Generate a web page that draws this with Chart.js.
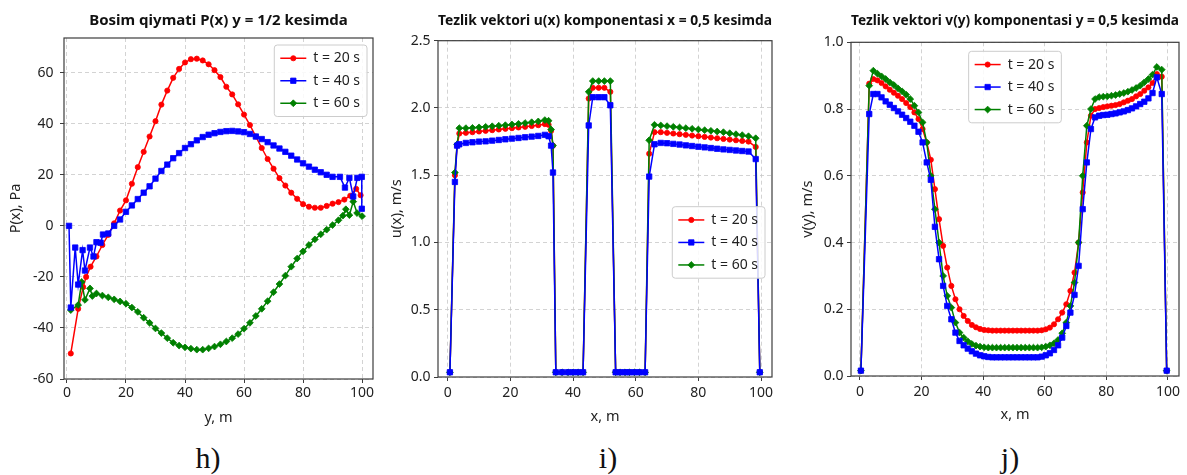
<!DOCTYPE html>
<html>
<head>
<meta charset="utf-8">
<script src="https://cdn.jsdelivr.net/npm/chart.js@4.4.0/dist/chart.umd.min.js"></script>
<style>
  body { margin: 0; background: #fff; width: 1187px; height: 475px; position: relative; overflow: hidden; }
  canvas { position: absolute; top: 0; }
  .tag { position: absolute; top: 441px; width: 100px; text-align: center; font-family: "Liberation Serif", serif; font-size: 30px; line-height: 34px; color: #111; }
</style>
</head>
<body>
<canvas id="chartH" width="390" height="440" style="left:0px"></canvas>
<canvas id="chartI" width="405" height="440" style="left:385px"></canvas>
<canvas id="chartJ" width="392" height="440" style="left:795px"></canvas>
<div class="tag" style="left:158px">h)</div>
<div class="tag" style="left:558px">i)</div>
<div class="tag" style="left:960px">j)</div>
<script>
// series names and colours
const seriesLabels = ['t = 20 s', 't = 40 s', 't = 60 s'];
const seriesColors = ['#ff0000', '#0000ff', '#008000'];

// h) pressure P(x) on y = 1/2, [y, P] pairs
const pressure20 = [[1.3,-50],[3.8,-32.5],[5.5,-24],[6.5,-20],[8,-16],[10,-12],[12,-7.5],[14,-3.5],[16,1],[18,6],[20,10],
  [22,16.5],[24,23],[26,29],[28,35],[30,41],[32,47.5],[34,53],[36,58],[38,61.5],[40,64],[42,65.3],[44,65.5],[46,64.8],
  [48,63.3],[50,61],[52,58.3],[54,54.5],[56,51.5],[58,47.6],[60,43.6],[62,39.5],[64,35],[66,30.5],[68,26.2],[70,22.4],
  [72,18.7],[74,15.8],[76,13],[78,10.6],[80,8.5],[82,7.5],[84,7.1],[86,7.1],[88,7.8],[90,8.7],[92,9.3],[94,10.3],
  [96,11.8],[98,14.5],[99.5,12]];
const pressure40 = [[0.7,0],[1.3,-32],[2.8,-8.5],[3.8,-23],[5.3,-9.5],[6.1,-17.5],[7.8,-8.5],[9,-12],[10,-6.4],[11.4,-6.6],
  [12.2,-3.4],[14,-3],[16,0],[18,2.5],[20,5.5],[22,8],[24,10.5],[26,13],[28,15.5],[30,18.5],[32,21.5],[34,24],[36,26.5],
  [38,28.5],[40,30.5],[42,32],[44,33.5],[46,34.8],[48,35.7],[50,36.3],[52,36.8],[54,37.1],[56,37.2],[58,37],[60,36.7],
  [62,36],[64,35],[66,34],[68,32.8],[70,31.5],[72,30.3],[74,29],[76,27.5],[78,26],[80,24.5],[82,23.2],[84,22],[86,21],
  [88,20],[90,19.2],[92.5,19.2],[94.2,15],[95.7,18.8],[97,11.5],[98.4,18.8],[99.9,19.2],[99.9,6.7]];
const pressure60 = [[1.3,-33],[3.8,-31],[5,-22],[6.1,-29],[7.8,-24.5],[8.6,-27.5],[10,-26.5],[12,-27.3],[14,-28],[16,-28.8],
  [18,-29.6],[20,-30.5],[22,-32],[24,-33.7],[26,-36],[28,-38],[30,-40.2],[32,-42],[34,-44],[36,-45.8],[38,-46.9],[40,-47.6],
  [42,-48.1],[44,-48.5],[46,-48.5],[48,-48],[50,-47.3],[52,-46.4],[54,-45.3],[56,-44],[58,-42.4],[60,-40.3],[62,-38],
  [64,-35.3],[66,-32.5],[68,-29.5],[70,-26],[72,-22.8],[74,-19.5],[76,-16],[78,-12.8],[80,-10],[82,-7.5],[84,-5.3],
  [86,-3.3],[88,-1.5],[90,0.3],[92,2.2],[93.5,4],[94.5,6.5],[95.7,4.2],[97,9.5],[98.3,5],[100,3.8]];

// i) velocity u(x) on x = 0,5
const iX = [0.7, 2.3, 3.0, 3.7, 5.8, 7.9, 10.0, 12.1, 14.2, 16.3, 18.4, 20.5, 22.6, 24.7, 26.8, 28.9, 31.0, 32.2, 33.0, 33.6,
  34.5, 36.5, 38.4, 40.0, 41.6, 43.2, 45.0, 46.3, 48.2, 50.0, 51.9, 53.6, 55.0, 56.6, 58.0, 59.6, 61.2, 63.0, 64.3, 66.0,
  68, 70, 72, 74, 76, 78, 80, 82, 84, 86, 88, 90, 92, 94, 96, 98.3, 99.6];
const iU20 = [0.035, 1.50, 1.72, 1.81,
  1.815, 1.82, 1.825, 1.83, 1.835, 1.84, 1.845, 1.85, 1.855, 1.86, 1.866, 1.872,
  1.88, 1.875, 1.83, 1.72,
  0.035, 0.035, 0.035, 0.035, 0.035, 0.035,
  2.07, 2.15, 2.15, 2.15, 2.12,
  0.035, 0.035, 0.035, 0.035, 0.035, 0.035, 0.035,
  1.66, 1.82,
  1.82, 1.815, 1.81, 1.805, 1.80, 1.795, 1.79, 1.785, 1.78, 1.775, 1.77, 1.765, 1.76, 1.755, 1.75,
  1.71, 0.035];
const iU40 = [0.035, 1.45, 1.72, 1.73,
  1.74, 1.745, 1.75, 1.752, 1.757, 1.762, 1.767, 1.772, 1.777, 1.782, 1.787, 1.792,
  1.80, 1.79, 1.72, 1.52,
  0.035, 0.035, 0.035, 0.035, 0.035, 0.035,
  1.87, 2.08, 2.08, 2.08, 2.02,
  0.035, 0.035, 0.035, 0.035, 0.035, 0.035, 0.035,
  1.49, 1.73,
  1.74, 1.738, 1.733, 1.728, 1.722, 1.717, 1.712, 1.707, 1.702, 1.697, 1.692, 1.688, 1.684, 1.68, 1.676,
  1.62, 0.035];
const iU60 = [0.035, 1.52, 1.73, 1.85,
  1.85, 1.852, 1.856, 1.86, 1.864, 1.868, 1.872, 1.877, 1.882, 1.888, 1.894, 1.90,
  1.91, 1.905, 1.84, 1.72,
  0.035, 0.035, 0.035, 0.035, 0.035, 0.035,
  2.12, 2.20, 2.20, 2.20, 2.20,
  0.035, 0.035, 0.035, 0.035, 0.035, 0.035, 0.035,
  1.76, 1.875,
  1.87, 1.865, 1.86, 1.855, 1.85, 1.845, 1.84, 1.835, 1.83, 1.825, 1.82, 1.812, 1.805, 1.798, 1.79,
  1.775, 0.035];

// j) velocity v(y) on y = 0,5
const jX = [0.3, 3.0, 4.33, 5.67, 7.0, 8.33, 9.67, 11.0, 12.33, 13.67, 15.0, 16.33, 17.67, 19.0, 20.33, 21.67, 23.0,
  24.33, 25.67, 27.0, 28.33, 29.67, 31.0, 32.33, 33.67, 35.0, 36.33, 37.67, 39.0, 40.33, 41.67,
  43.0, 44.33, 45.67, 47.0, 48.33, 49.67, 51.0, 52.33, 53.67, 55.0, 56.33, 57.67,
  59.0, 60.33, 61.67, 63.0, 64.33, 65.67, 67.0, 68.33, 69.67, 71.0, 72.33, 73.67, 75.0,
  76.33, 77.67, 79.0, 80.33, 81.67, 83.0, 84.33, 85.67, 87.0, 88.33, 89.67, 91.0, 92.33, 93.67, 95.0,
  96.4, 98.0, 99.6];
const jV20 = [0.016,
  0.876, 0.89, 0.886, 0.878, 0.868, 0.858, 0.849, 0.84, 0.83, 0.818, 0.806, 0.79, 0.77, 0.74, 0.70, 0.648,
  0.56, 0.47, 0.39, 0.325, 0.27, 0.23, 0.2, 0.18, 0.165, 0.153, 0.146, 0.141, 0.138, 0.137,
  0.136, 0.136, 0.136, 0.136, 0.136, 0.136, 0.136, 0.136, 0.136, 0.136, 0.136, 0.136,
  0.137, 0.14, 0.145, 0.155, 0.17, 0.19, 0.215, 0.255, 0.31, 0.40, 0.55, 0.70, 0.78,
  0.80, 0.803, 0.806, 0.808, 0.81, 0.812, 0.815, 0.82, 0.825, 0.83, 0.838, 0.845, 0.855, 0.865, 0.878,
  0.905, 0.897, 0.016];
const jV40 = [0.016,
  0.785, 0.845, 0.845, 0.835, 0.823, 0.813, 0.803, 0.793, 0.783, 0.773, 0.762, 0.75, 0.732, 0.70, 0.64, 0.588,
  0.447, 0.35, 0.27, 0.21, 0.17, 0.13, 0.105, 0.092, 0.082, 0.074, 0.067, 0.062, 0.059, 0.057,
  0.056, 0.056, 0.056, 0.056, 0.056, 0.056, 0.056, 0.056, 0.056, 0.056, 0.056, 0.056,
  0.058, 0.062, 0.068, 0.078, 0.092, 0.115, 0.15, 0.19, 0.243, 0.33, 0.50, 0.64, 0.74,
  0.775, 0.78, 0.782, 0.783, 0.785, 0.787, 0.79, 0.793, 0.797, 0.802, 0.808, 0.815, 0.822, 0.832, 0.848,
  0.895, 0.845, 0.016];
const jV60 = [0.016,
  0.87, 0.915, 0.906, 0.898, 0.89, 0.88, 0.872, 0.862, 0.853, 0.843, 0.83, 0.81, 0.79, 0.76, 0.70, 0.60,
  0.50, 0.40, 0.30, 0.24, 0.205, 0.16, 0.13, 0.115, 0.104, 0.096, 0.091, 0.088, 0.086, 0.085,
  0.085, 0.085, 0.085, 0.085, 0.085, 0.085, 0.085, 0.085, 0.085, 0.085, 0.085, 0.085,
  0.086, 0.088, 0.092, 0.098, 0.108, 0.128, 0.16, 0.21, 0.28, 0.40, 0.60, 0.75, 0.80,
  0.83, 0.836, 0.837, 0.838, 0.84, 0.842, 0.845, 0.848, 0.852, 0.857, 0.863, 0.87, 0.88, 0.89, 0.903,
  0.926, 0.918, 0.016];

// tick labels
const xTicks = [0, 20, 40, 60, 80, 100];
const hTicks = [-60, -40, -20, 0, 20, 40, 60];
const iTicks = [0, 0.5, 1.0, 1.5, 2.0, 2.5];
const jTicks = [0, 0.2, 0.4, 0.6, 0.8, 1.0];

const FONT = '"Noto Sans", "Open Sans", sans-serif';
const TICK_SIZE = 14;
const AXIS_TITLE_SIZE = 14.5;
const markers = [
  { pointStyle: 'circle', radius: 2.6 },
  { pointStyle: 'rect', radius: 3.8 },
  { pointStyle: 'rectRot', radius: 3.4 }
];
// blue drawn on top, as in the picture
const drawOrder = [3, 1, 2];

function makeSet(k, points) {
  return {
    label: seriesLabels[k],
    data: points,
    borderColor: seriesColors[k],
    backgroundColor: seriesColors[k],
    borderWidth: 1.5,
    pointStyle: markers[k].pointStyle,
    pointRadius: markers[k].radius,
    pointBorderWidth: 0.8,
    pointBackgroundColor: seriesColors[k],
    pointBorderColor: seriesColors[k],
    tension: 0,
    order: drawOrder[k]
  };
}

const toPoints = pairs => pairs.map(([x, y]) => ({ x, y }));
const onGrid = (xs, ys) => xs.map((x, k) => ({ x, y: ys[k] }));

// box around the axes, like matplotlib spines
const frame = {
  id: 'frame',
  afterDatasetsDraw(chart) {
    const { ctx, chartArea: a } = chart;
    ctx.save();
    ctx.strokeStyle = '#3c3c3c';
    ctx.lineWidth = 1.2;
    ctx.strokeRect(a.left, a.top, a.right - a.left, a.bottom - a.top);
    ctx.restore();
  }
};

// legend drawn inside the plot area
const boxLegend = {
  id: 'boxLegend',
  afterDraw(chart, args, opts) {
    const { ctx, chartArea: a } = chart;
    const sets = chart.data.datasets;
    ctx.save();
    ctx.font = '14px ' + FONT;
    const textW = Math.max(...sets.map(d => ctx.measureText(d.label).width));
    const rowH = 22.5, lineLen = 26;
    const w = 6 + lineLen + 7 + textW + 7;
    const h = rowH * sets.length + 4;
    const x = opts.center ? (a.left + a.right - w) / 2 : a.right - opts.right - w;
    const y = a.top + opts.top;
    ctx.beginPath();
    ctx.roundRect(x, y, w, h, 3);
    ctx.fillStyle = 'rgba(255,255,255,0.85)';
    ctx.fill();
    ctx.strokeStyle = '#cccccc';
    ctx.lineWidth = 1;
    ctx.stroke();
    sets.forEach((d, k) => {
      const cy = y + 2 + rowH * (k + 0.5);
      const lx = x + 6;
      ctx.strokeStyle = d.borderColor;
      ctx.lineWidth = 1.5;
      ctx.beginPath();
      ctx.moveTo(lx, cy);
      ctx.lineTo(lx + lineLen, cy);
      ctx.stroke();
      ctx.fillStyle = d.borderColor;
      ctx.lineWidth = 0.8;
      Chart.helpers.drawPoint(ctx, { pointStyle: d.pointStyle, radius: d.pointRadius, rotation: 0, borderWidth: 0.8 }, lx + lineLen / 2, cy);
      ctx.fillStyle = '#222';
      ctx.textBaseline = 'middle';
      ctx.textAlign = 'left';
      ctx.fillText(d.label, lx + lineLen + 7, cy);
    });
    ctx.restore();
  }
};

function makeChart(id, cfg) {
  const canvas = document.getElementById(id);
  const W = canvas.width, H = canvas.height;
  const half = AXIS_TITLE_SIZE * 1.2 / 2;
  new Chart(canvas, {
    type: 'line',
    data: { datasets: cfg.datasets },
    options: {
      responsive: false,
      animation: false,
      layout: { padding: { left: 0, right: W - cfg.plot.right, top: 0, bottom: 0 } },
      plugins: {
        legend: { display: false },
        tooltip: { enabled: false },
        title: {
          display: true,
          text: cfg.title,
          fullSize: false,
          color: '#111',
          font: { family: FONT, size: cfg.titleSize, weight: 'bold' },
          padding: { top: cfg.titlePad, bottom: cfg.plot.top - cfg.titlePad - cfg.titleSize * 1.2 }
        },
        boxLegend: cfg.legend
      },
      scales: {
        x: {
          type: 'linear',
          min: cfg.xRange[0],
          max: cfg.xRange[1],
          afterBuildTicks: s => { s.ticks = xTicks.map(v => ({ value: v })); },
          afterFit: s => { s.height = H - cfg.plot.bottom; },
          grid: { color: '#c8c8c8', lineWidth: 0.8, tickLength: 4, tickColor: '#3c3c3c', tickWidth: 1, tickBorderDash: [] },
          border: { display: false, dash: [4, 3] },
          ticks: { color: '#222', font: { family: FONT, size: TICK_SIZE }, padding: cfg.xTickPad, maxRotation: 0 },
          title: { display: true, text: cfg.xTitle, color: '#222', font: { family: FONT, size: AXIS_TITLE_SIZE }, padding: { top: 0, bottom: H - cfg.xTitleY - half } }
        },
        y: {
          type: 'linear',
          min: cfg.yRange[0],
          max: cfg.yRange[1],
          afterBuildTicks: s => { s.ticks = cfg.yTicks.map(v => ({ value: v })); },
          afterFit: s => { s.width = cfg.plot.left; },
          grid: { color: '#c8c8c8', lineWidth: 0.8, tickLength: 4, tickColor: '#3c3c3c', tickWidth: 1, tickBorderDash: [] },
          border: { display: false, dash: [4, 3] },
          ticks: { color: '#222', font: { family: FONT, size: TICK_SIZE }, padding: cfg.yTickPad, callback: cfg.yFormat },
          title: { display: true, text: cfg.yTitle, color: '#222', font: { family: FONT, size: AXIS_TITLE_SIZE }, padding: { top: cfg.yTitleX - half, bottom: 0 } }
        }
      }
    },
    plugins: [frame, boxLegend]
  });
}

makeChart('chartH', {
  title: 'Bosim qiymati P(x) y = 1/2 kesimda',
  titleSize: 15, titlePad: 12,
  plot: { left: 64, right: 373, top: 38, bottom: 379 },
  xRange: [-1, 103.7],
  yRange: [-60, 73.6],
  yTicks: hTicks,
  yFormat: v => String(v),
  xTitle: 'y, m', xTitleY: 418,
  yTitle: 'P(x), Pa', yTitleX: 15.5,
  xTickPad: 1.9, yTickPad: 6.5,
  legend: { right: 6, top: 7 },
  datasets: [makeSet(0, toPoints(pressure20)), makeSet(1, toPoints(pressure40)), makeSet(2, toPoints(pressure60))]
});

makeChart('chartI', {
  title: 'Tezlik vektori u(x) komponentasi x = 0,5 kesimda',
  titleSize: 14, titlePad: 13,
  plot: { left: 53, right: 387, top: 40.7, bottom: 377 },
  xRange: [-3.1, 103.5],
  yRange: [0, 2.5],
  yTicks: iTicks,
  yFormat: v => v.toFixed(1),
  xTitle: 'x, m', xTitleY: 417,
  yTitle: 'u(x), m/s', yTitleX: 12,
  xTickPad: 3.6, yTickPad: 3.5,
  legend: { right: 7, top: 166 },
  datasets: [makeSet(0, onGrid(iX, iU20)), makeSet(1, onGrid(iX, iU40)), makeSet(2, onGrid(iX, iU60))]
});

makeChart('chartJ', {
  title: 'Tezlik vektori v(y) komponentasi y = 0,5 kesimda',
  titleSize: 14, titlePad: 13,
  plot: { left: 56, right: 384, top: 42.3, bottom: 376 },
  xRange: [-2.92, 103.6],
  yRange: [0, 1.0],
  yTicks: jTicks,
  yFormat: v => v.toFixed(1),
  xTitle: 'x, m', xTitleY: 415,
  yTitle: 'v(y), m/s', yTitleX: 13,
  xTickPad: 3.3, yTickPad: 3.5,
  legend: { center: true, top: 9 },
  datasets: [makeSet(0, onGrid(jX, jV20)), makeSet(1, onGrid(jX, jV40)), makeSet(2, onGrid(jX, jV60))]
});
</script>
</body>
</html>
